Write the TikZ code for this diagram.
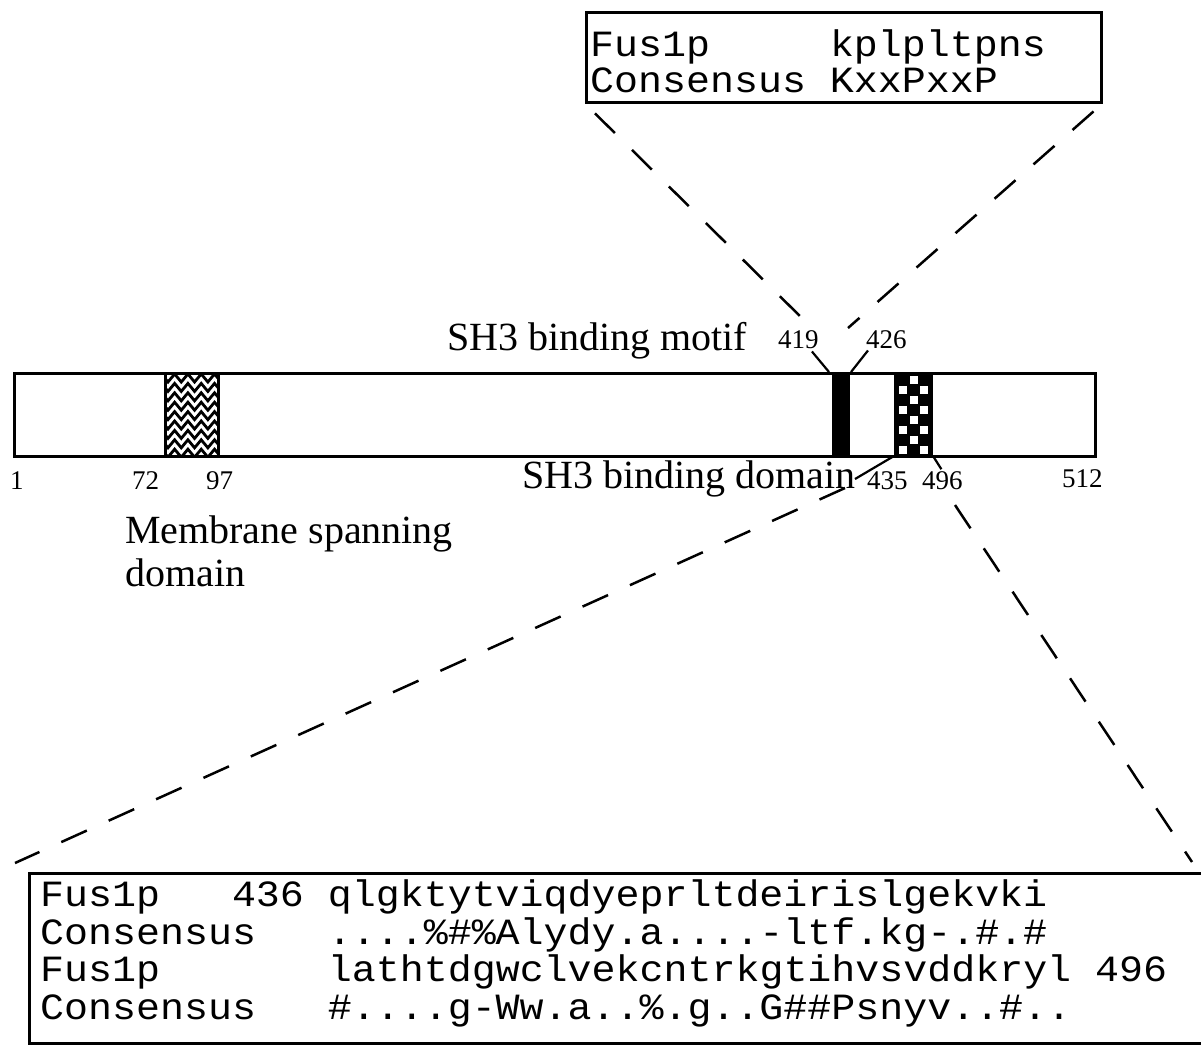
\documentclass[tikz,border=0pt]{standalone}
\usepackage{fontspec}
\setmainfont{Liberation Serif}
\setmonofont[FakeStretch=1.08]{Liberation Mono}
\usetikzlibrary{positioning, calc, decorations.pathmorphing}

\begin{document}
\begin{tikzpicture}[x=1pt, y=-1pt,
  every node/.style={inner sep=0pt, anchor=base west},
  lbl/.style={font=\fontsize{40}{40}\selectfont},
  num/.style={font=\fontsize{27}{27}\selectfont},
  seq/.style={font=\ttfamily\fontsize{37}{37}\selectfont},
  frame/.style={draw, line width=2.5pt, anchor=north west},
  tick/.style={line width=2.2pt},
  zoomline/.style={line width=2.5pt, dash pattern=on 28pt off 24pt}]
  \useasboundingbox (0,0) rectangle (1201,1045);

  % Membranbereich (Wellen)
  \begin{scope}
    \clip (165,372) rectangle (218,455);
    \foreach \r in {0,...,8}
      \draw[line width=2.8pt, decorate,
        decoration={zigzag, segment length=13.3pt, amplitude=4pt}]
        (158,{378+9.4*\r}) -- (226,{378+9.4*\r});
  \end{scope}
  \draw[line width=3pt] (165,372) -- (165,455) (218,372) -- (218,455);

  % SH3 Motiv
  \fill (832,372) rectangle (850,455);

  % SH3 Domaene (Karos)
  \fill (894,372) rectangle (933,455);
  \foreach \k in {0,...,7} {
    \ifodd\k
      \fill[white] (899,{386+10*(\k-1)}) rectangle ++(8,8);
      \fill[white] (920,{386+10*(\k-1)}) rectangle ++(8,8);
    \else
      \fill[white] (909.5,{376+10*\k}) rectangle ++(8,8);
    \fi
  }

  % Balken
  \node[frame, line width=3pt, minimum width=1081pt, minimum height=83pt] (bar) at (13,372) {};
  \coordinate (c419) at (829,372);
  \coordinate (c426) at (851,372);
  \coordinate (c435) at (894,456);
  \coordinate (c496) at (933,456);

  % Beschriftung
  \node[lbl] (motiflbl) at (447,350) {SH3 binding motif};
  \node[num] (n419) at (778,348) {419};
  \node[num] (n426) at (866,348) {426};
  \node[num] (n1) at (10,489) {1};
  \node[num] (n72) at (132,489) {72};
  \node[num] (n97) at (206,489) {97};
  \node[lbl] (domainlbl) at (522,488) {SH3 binding domain};
  \node[num] (n435) at (867,489) {435};
  \node[num] (n496) at (922,489) {496};
  \node[num] (n512) at (1062,487) {512};
  \node[lbl] (memlbl) at (125,543) {Membrane spanning};
  \node[lbl] (domlbl) at (125,586) {domain};

  \draw[tick] ([shift={(-7,3)}]n419.south east) -- (c419);
  \draw[tick] ([shift={(2,2)}]n426.south west) -- (c426);
  \draw[tick] ([shift={(-12,-10)}]n435.base west) -- (c435);
  \draw[tick, shorten >=2pt] (c496) -- (n496.north);

  % Motiv-Kasten
  \node[frame, minimum width=515pt, minimum height=90pt] (motifbox) at (585,11) {};
  \node[seq] (fusA) at (590,56) {Fus1p\ \ \ \ \ kplpltpns};
  \node[seq] (consA) at (590,92) {Consensus\ KxxPxxP};

  % Domaenen-Kasten
  \node[frame, minimum width=1190pt, minimum height=170pt] (seqbox) at (28,872) {};
  \node[seq] (fusB) at (40,906) {Fus1p\ \ \ 436 qlgktytviqdyeprltdeirislgekvki};
  \node[seq] (consB) at (40,944) {Consensus\ \ \ ....\%\#\%Alydy.a....-ltf.kg-.\#.\#};
  \node[seq] (fusC) at (40,981) {Fus1p\ \ \ \ \ \ \ lathtdgwclvekcntrkgtihvsvddkryl 496};
  \node[seq] (consC) at (40,1019) {Consensus\ \ \ \#....g-Ww.a..\%.g..G\#\#Psnyv..\#..};

  % Vergroesserung
  \coordinate (zoomTL) at (812,328);
  \coordinate (zoomTR) at (848,328);
  \coordinate (zoomBL) at (845,488);
  \coordinate (zoomBR) at (955,505);
  \coordinate (seqL) at (15,863);
  \coordinate (seqR) at (1192,862);
  \draw[zoomline, shorten <=14pt] (motifbox.south west) -- (zoomTL);
  \draw[zoomline, shorten <=12pt] (motifbox.south east) -- (zoomTR);
  \draw[zoomline] (zoomBL) -- (seqL);
  \draw[zoomline] (zoomBR) -- (seqR);

\end{tikzpicture}
\end{document}
